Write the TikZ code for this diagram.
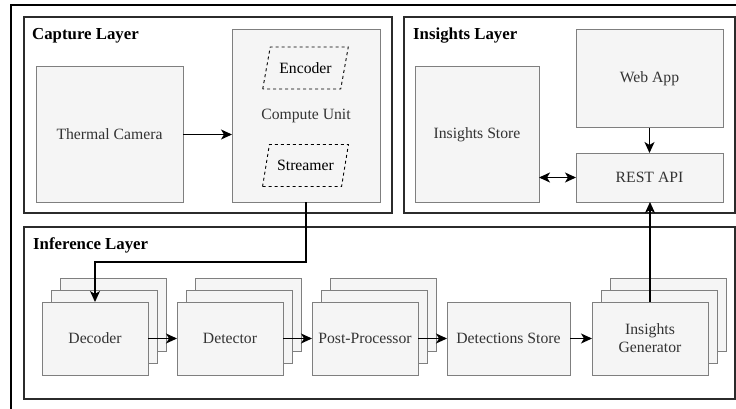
\documentclass[tikz,border=0pt]{standalone}
\usepackage{fontspec}
\newfontfamily\diagfont{Liberation Serif}
\usetikzlibrary{shapes.geometric,shadows,arrows.meta}

\definecolor{boxfill}{HTML}{F5F5F5}
\definecolor{boxline}{HTML}{7F7F7F}
\definecolor{txtgrey}{HTML}{333333}
\definecolor{layline}{HTML}{2B2B2B}

\newcommand{\dims}{
\def\hrow{73pt}   % height of one stage box
\def\dx{9pt}      % offset of the stacked copies
\def\dy{12pt}
}

\tikzset{
  blk/.style={draw=boxline, fill=boxfill, line width=1pt, text=txtgrey,
    outer sep=0pt, inner sep=2pt, align=center},
  stackbox/.style={blk, minimum height=\hrow,
    copy shadow={shadow xshift=2*\dx, shadow yshift=2*\dy, fill=boxfill, draw=boxline, line width=1pt},
    copy shadow={shadow xshift=\dx, shadow yshift=\dy, fill=boxfill, draw=boxline, line width=1pt}},
  para/.style={trapezium, trapezium left angle=66, trapezium right angle=114,
    trapezium stretches=true, minimum width=86pt, minimum height=42pt,
    draw=black, fill=boxfill, dash pattern=on 3pt off 3pt, line width=0.9pt,
    inner sep=1pt, outer sep=0pt},
  layer/.style={draw=layline, line width=1.4pt},
  ttl/.style={anchor=base west, inner sep=0pt, font=\diagfont\fontsize{16.8}{19}\selectfont\bfseries},
  arr/.style={-{Stealth[length=11pt,width=10pt,inset=3pt]}, line width=1.3pt},
  dblarr/.style={{Stealth[length=11pt,width=10pt,inset=3pt]}-{Stealth[length=11pt,width=10pt,inset=3pt]}, line width=1.3pt},
}

\begin{document}
\begin{tikzpicture}[x=1pt,y=-1pt,font=\diagfont\fontsize{15.7}{18}\selectfont]
  \dims
  \useasboundingbox (0,0) rectangle (736,409);
%
  % outer frame, only top and left show
  \draw[line width=1.4pt] (736,5) -- (11,5) -- (11,409);
  % layers
  \draw[layer] (24,17) rectangle (392,213);
  \draw[layer] (404,17) rectangle (735,213);
  \draw[layer] (24,227) rectangle (735,399);
  \node[ttl] (capttl) at (32,40) {Capture Layer};
  \node[ttl] (insttl) at (413,40) {Insights Layer};
  \node[ttl] (infttl) at (33,249) {Inference Layer};
%
  % capture
  \node[blk, minimum width=147pt, minimum height=135pt] (cam) at (109.5,134.5) {Thermal Camera};
  \node[blk, minimum width=148pt, minimum height=172pt] (cu) at (306,116) {Compute Unit};
  \node[para] (enc) at (305.5,68) {Encoder};
  \node[para] (strm) at (305.5,165.5) {Streamer};
%
  % insights
  \node[blk, minimum width=124pt, minimum height=135pt] (istore) at (477,134.5) {Insights Store};
  \node[blk, minimum width=147pt, minimum height=98pt] (web) at (649.5,79) {Web App};
  \node[blk, minimum width=147pt, minimum height=49pt] (rest) at (649.5,177.5) {REST API};
%
  % inference
  \node[stackbox, minimum width=106pt] (dec) at (95,338.5) {Decoder};
  \node[stackbox, minimum width=106pt] (det) at (230,338.5) {Detector};
  \node[stackbox, minimum width=106pt] (pp) at (365,338.5) {Post-Processor};
  \node[blk, minimum width=123pt, minimum height=\hrow] (ds) at (508.5,338.5) {Detections Store};
  \node[stackbox, minimum width=116pt] (ig) at (650,338.5) {Insights\\Generator};
%
  \draw[arr] (cam.east) -- (cam.east -| cu.west);
  \draw[arr] (web) -- (rest);
  \draw[dblarr] (rest.west -| istore.east) -- (rest.west);
  \draw[arr] (cu.south) -- ++(0,60) -| (dec.north);
  \draw[arr] (dec) -- (det);
  \draw[arr] (det) -- (pp);
  \draw[arr] (pp) -- (ds);
  \draw[arr] (ds) -- (ig);
  \draw[arr] (ig.north) -- (ig.north |- rest.south);
\end{tikzpicture}
\end{document}
